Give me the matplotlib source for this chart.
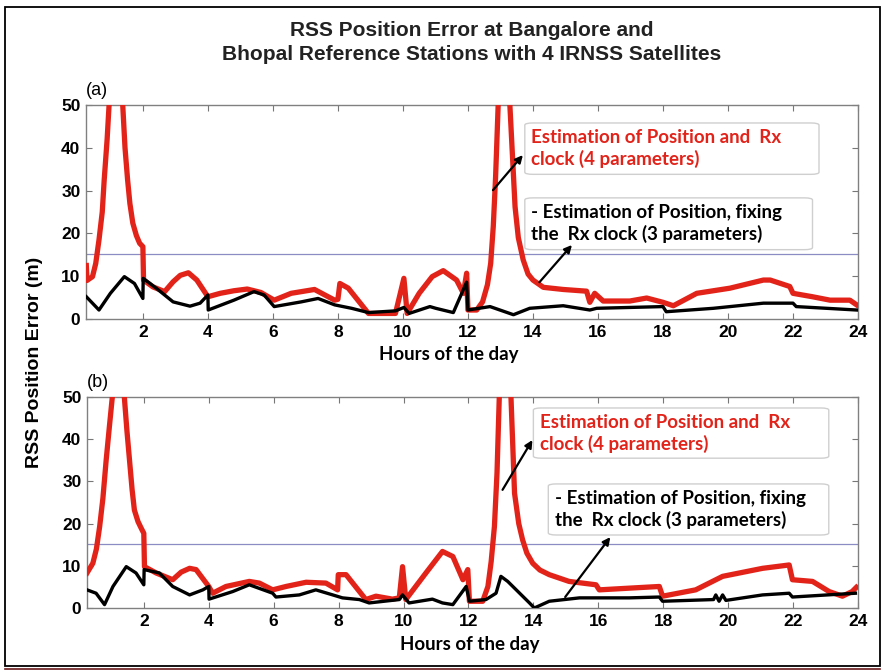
import matplotlib
matplotlib.use("Agg")
import matplotlib.pyplot as plt
from matplotlib.patches import FancyBboxPatch, Rectangle
from matplotlib.lines import Line2D

plt.rcParams["font.family"] = ["Liberation Sans", "DejaVu Sans"]

# ---- data (hours, RSS error in m) ----
# panel (a) - Bangalore
a_red_h = [0.26, 0.28, 0.45, 0.55, 0.65, 0.75, 0.81, 0.9, 0.96, 1.1, 1.25, 1.38, 1.45, 1.53,
           1.6, 1.69, 1.8, 1.9, 2.0, 2.02, 2.31, 2.67, 2.93, 3.15, 3.4, 3.66, 4.0, 4.38,
           4.8, 5.21, 5.63, 6.04, 6.56, 7.28, 7.9, 8.0, 8.06, 8.32, 8.94, 9.77, 10.03,
           10.13, 10.5, 10.9, 11.24, 11.65, 11.86, 11.96, 12.0, 12.27, 12.45, 12.6, 12.7,
           12.78, 12.85, 12.93, 13.1, 13.29, 13.45, 13.55, 13.7, 13.85, 14.0, 14.32, 14.93,
           15.65, 15.75, 15.9, 16.16, 16.98, 17.5, 18.0, 18.32, 19.04, 20.06, 21.09, 21.3,
           21.9, 22.0, 22.6, 23.14, 23.75, 23.96]
a_red_v = [12.5, 9.0, 9.9, 13.0, 18.5, 25.0, 32.5, 42.0, 50.0, 90.0, 90.0, 50.0, 40.0, 32.5,
           27.0, 22.4, 19.5, 17.7, 16.9, 9.1, 7.5, 6.4, 8.7, 10.2, 10.8, 9.1, 5.2, 6.0,
           6.6, 7.0, 6.2, 4.4, 6.0, 6.9, 4.4, 4.6, 8.3, 7.2, 1.3, 1.3, 9.5,
           1.3, 6.0, 9.9, 11.3, 9.1, 6.0, 10.7, 2.1, 2.1, 4.0, 8.0, 13.0,
           21.7, 33.0, 50.0, 90.0, 50.0, 26.2, 19.0, 13.8, 10.5, 9.1, 7.4, 6.9,
           6.5, 3.9, 6.0, 4.2, 4.2, 4.9, 3.9, 3.1, 6.0, 7.2, 9.1, 9.1,
           7.6, 6.0, 5.2, 4.4, 4.4, 3.3]
a_blk_h = [0.26, 0.65, 1.0, 1.43, 1.74, 2.0, 2.01, 2.41, 2.93, 3.45, 3.76, 4.0, 4.01, 4.8,
           5.42, 5.73, 6.04, 6.87, 7.39, 7.9, 8.42, 8.94, 9.77, 10.03, 10.19, 10.83, 11.01,
           11.55, 11.96, 12.0, 12.68, 13.4, 13.9, 14.93, 15.75, 15.96, 18.0, 18.1, 19.55,
           21.09, 22.0, 22.1, 23.96]
a_blk_v = [5.2, 2.1, 6.0, 9.9, 8.3, 4.8, 9.5, 7.2, 4.0, 3.0, 3.7, 5.6, 2.1, 4.4,
           6.4, 5.6, 2.9, 4.0, 4.8, 3.3, 2.5, 1.5, 1.9, 2.7, 1.3, 2.9, 2.5,
           1.5, 8.6, 2.1, 2.9, 1.0, 2.5, 3.1, 2.1, 2.5, 2.9, 1.7, 2.5,
           3.7, 3.7, 2.9, 2.1]

# panel (b) - Bhopal
b_red_h = [0.25, 0.43, 0.54, 0.64, 0.74, 0.84, 0.94, 1.03, 1.15, 1.3, 1.4, 1.48, 1.56, 1.64,
           1.71, 1.82, 1.92, 2.0, 2.02, 2.38, 2.89, 3.15, 3.41, 3.61, 4.0, 4.12, 4.53, 5.25,
           5.56, 5.97, 6.38, 7.0, 7.61, 7.97, 7.99, 8.23, 8.84, 9.15, 9.66, 9.87, 9.97,
           10.07, 10.69, 11.2, 11.52, 11.83, 11.98, 12.03, 12.44, 12.6, 12.7, 12.8, 12.88,
           12.95, 13.1, 13.31, 13.42, 13.55, 13.67, 13.8, 13.98, 14.2, 14.49, 15.1, 15.93,
           16.03, 16.95, 17.88, 17.98, 19.0, 19.83, 21.06, 21.88, 21.98, 22.6, 23.11,
           23.52, 23.82, 23.95]
b_red_v = [8.3, 10.6, 14.0, 19.3, 26.0, 35.0, 43.0, 50.0, 90.0, 90.0, 50.0, 42.0, 35.0, 28.0,
           23.2, 20.5, 18.9, 17.7, 9.8, 8.3, 6.7, 8.5, 9.4, 9.1, 5.1, 3.5, 5.1, 6.3,
           5.9, 4.3, 5.1, 6.1, 5.9, 4.3, 7.9, 7.9, 2.0, 2.8, 2.1, 2.4, 9.8,
           2.0, 8.3, 13.4, 12.2, 6.7, 9.1, 1.6, 1.6, 5.1, 11.0, 19.3, 32.0,
           50.0, 90.0, 50.0, 27.2, 20.0, 16.1, 13.0, 10.6, 9.0, 7.9, 6.3, 5.5,
           4.3, 4.7, 5.1, 2.8, 4.3, 7.5, 9.4, 10.2, 6.7, 6.3, 3.9,
           2.8, 3.9, 4.9]
b_blk_h = [0.25, 0.53, 0.79, 1.05, 1.46, 1.76, 2.0, 2.01, 2.48, 2.89, 3.41, 3.82, 4.0,
           4.01, 4.74, 5.25, 5.97, 6.07, 6.79, 7.3, 7.82, 8.12, 8.64, 8.94, 9.87, 9.97,
           10.17, 10.89, 11.2, 11.52, 11.93, 12.03, 12.54, 12.85, 13.0, 13.21, 13.88,
           14.03, 14.49, 15.42, 16.95, 17.88, 17.98, 19.55, 19.62, 19.72, 19.83, 19.93,
           21.06, 21.88, 21.98, 23.92]
b_blk_v = [4.3, 3.5, 0.8, 5.1, 9.8, 8.3, 5.5, 9.1, 8.3, 5.1, 3.1, 4.3, 5.1,
           2.1, 3.9, 5.5, 3.5, 2.6, 3.1, 4.3, 3.1, 2.4, 2.0, 1.2, 2.0, 3.1,
           1.2, 2.1, 1.2, 0.8, 5.1, 1.6, 2.0, 3.5, 7.5, 6.3, 1.2,
           0.0, 1.6, 2.4, 2.4, 2.6, 1.6, 2.0, 3.1, 1.6, 3.1, 1.8,
           3.1, 3.5, 2.6, 3.5]

x_ticks = [2, 4, 6, 8, 10, 12, 14, 16, 18, 20, 22, 24]
y_ticks = [0, 10, 20, 30, 40, 50]
ref_level = 15.2

red_text = "Estimation of Position and  Rx\nclock (4 parameters)"
blk_text = "- Estimation of Position, fixing\nthe  Rx clock (3 parameters)"

# annotation layout per panel: box (x0, y0, x1, y1), arrow tail, arrow head
panels = [
    dict(red_h=a_red_h, red_v=a_red_v, blk_h=a_blk_h, blk_v=a_blk_v, tag="(a)",
         rect=[86, 105, 858, 319], xlab=(0.47, -0.125),
         red_box=(13.75, 33.8, 22.8, 45.8), blk_box=(13.75, 16.2, 22.6, 28.3),
         red_arrow=((12.77, 30.1), (13.69, 38.3)), blk_arrow=((14.2, 8.6), (15.2, 17.3))),
    dict(red_h=b_red_h, red_v=b_red_v, blk_h=b_blk_h, blk_v=b_blk_v, tag="(b)",
         rect=[87, 397, 858, 608], xlab=(0.497, -0.133),
         red_box=(14.0, 35.5, 23.1, 47.4), blk_box=(14.46, 17.3, 23.1, 29.4),
         red_arrow=((13.05, 28.0), (13.97, 39.8)), blk_arrow=((14.98, 2.6), (16.37, 16.8))),
]

W, H = 884, 672
fig = plt.figure(figsize=(W / 100, H / 100), dpi=100)
red = "#e2231a"
ann_font = ["Lato", "DejaVu Sans"]

for p in panels:
    l, t, r, b = p["rect"]
    ax = fig.add_axes([l / W, 1 - b / H, (r - l) / W, (b - t) / H])
    ax.axhline(ref_level, color="#8c8cc4", lw=0.9, zorder=1)
    ax.plot(p["red_h"], p["red_v"], color=red, lw=3.8, solid_joinstyle="round", zorder=3)
    ax.plot(p["blk_h"], p["blk_v"], color="black", lw=2.4, solid_joinstyle="round", zorder=4)
    ax.set_xlim(0.25, 24)
    ax.set_ylim(0, 50)
    ax.set_xticks(x_ticks)
    ax.set_yticks(y_ticks)
    ax.tick_params(direction="in", length=4, color="#777777", top=True, right=True,
                   labelsize=12.5, pad=4)
    for lab in ax.get_xticklabels() + ax.get_yticklabels():
        lab.set_fontweight("bold")
    for s in ax.spines.values():
        s.set_color("#808080")
        s.set_linewidth(1.0)
    ax.set_xlabel("Hours of the day", fontsize=13.5, fontweight="bold", family=ann_font)
    ax.xaxis.set_label_coords(*p["xlab"])
    ax.text(0.0, 1.07, p["tag"], transform=ax.transAxes, fontsize=13, ha="left", va="center")

    for box, txt, col in [(p["red_box"], red_text, red), (p["blk_box"], blk_text, "black")]:
        x0, y0, x1, y1 = box
        ax.add_patch(FancyBboxPatch((x0, y0), x1 - x0, y1 - y0,
                                    boxstyle="round,pad=0,rounding_size=0.25",
                                    fc="white", ec="#cfcfcf", lw=1.0, zorder=5,
                                    mutation_aspect=2.0))
        ax.text(x0 + 0.2, (y0 + y1) / 2, txt, color=col, fontsize=13.5, fontweight="bold",
                family=ann_font, ha="left", va="center", linespacing=1.25, zorder=6)
    for (tail, head) in [p["red_arrow"], p["blk_arrow"]]:
        ax.annotate("", xy=head, xytext=tail,
                    arrowprops=dict(arrowstyle="-|>", color="black", lw=1.6,
                                    mutation_scale=11, shrinkA=0, shrinkB=0), zorder=7)

fig.text(472 / W, 1 - 30 / H, "RSS Position Error at Bangalore and", ha="center", va="center",
         fontsize=15, fontweight="bold", color="#222222")
fig.text(472 / W, 1 - 54 / H, "Bhopal Reference Stations with 4 IRNSS Satellites", ha="center",
         va="center", fontsize=15, fontweight="bold", color="#222222")
fig.text(35 / W, 1 - 362 / H, "RSS Position Error (m)", rotation=90, ha="center", va="center",
         fontsize=14, fontweight="bold")

# outer frame
fig.patches.append(Rectangle((5 / W, 1 - 666 / H), 875 / W, 659 / H, transform=fig.transFigure,
                             fill=False, ec="black", lw=1.3))
fig.lines.append(Line2D([5 / W, 880 / W], [1 - 669 / H] * 2, transform=fig.transFigure,
                        color="#6b1a1a", lw=1.2))

fig.savefig("out.png", dpi=100)
